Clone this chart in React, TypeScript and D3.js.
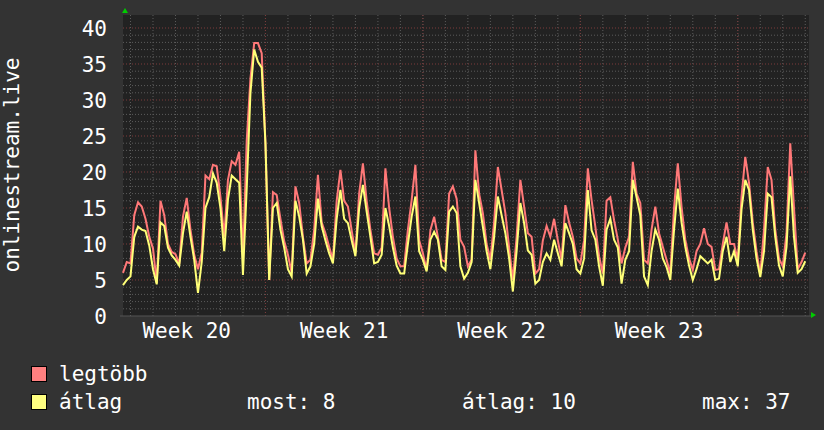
import React from "react";
import * as d3 from "d3";

// 4-hour samples starting Mon 2021-05-17 16:00 UTC
const startTime = Date.UTC(2021, 4, 17, 16);
const stepHours = 4;

const maxValues = [
  6, 7.5, 7.3, 14, 15.8, 15.2, 13.5, 11, 9.4, 4.6,
  16, 14, 10, 8.9, 8.6, 7.2, 13.8, 16.4, 12, 8.5,
  6.5, 8.8, 19.5, 19, 21, 20.8, 16.5, 11, 18.9, 21.5,
  21, 22.8, 8, 24.3, 33, 37.9, 37.9, 36.5, 24, 5,
  17.2, 16.8, 13.5, 10.4, 8.5, 6, 18, 15.7, 11, 7.3,
  7.8, 12, 19.6, 13, 11.5, 9.6, 7.8, 16, 20.3, 16,
  15.2, 11.9, 8.7, 17, 21.2, 16, 12, 8.7, 8.5, 9.5,
  20.5, 15, 11, 8, 6.9, 6.9, 12, 16.1, 21, 10.5,
  8.7, 6.4, 11.9, 13.8, 11, 7.8, 7.5, 17, 18, 16.3,
  10.6, 9.6, 6.9, 7.8, 23, 17, 14.3, 10, 7.8, 13,
  20.7, 17.5, 14.3, 9.5, 5, 11, 18.9, 15.2, 11.5, 11,
  5.9, 6.5, 10.5, 12.5, 11, 13.5, 10.5, 7.8, 15.4, 13,
  11, 8, 7.3, 10.5, 20.5, 16.1, 12.4, 8.3, 5.9, 16,
  16.5, 13.3, 10.6, 7.3, 9.5, 11, 21.4, 17, 15.7, 7.8,
  7.3, 12, 15.2, 11.5, 9.6, 7.8, 5.9, 15, 21.2, 15.2,
  10.6, 8, 6.4, 9, 10, 12.2, 10, 9.6, 6.4, 6.5,
  10, 13, 10, 10, 7.8, 16.6, 22.1, 18.5, 13, 9,
  5.8, 12, 20.7, 18.9, 12, 8, 6.9, 11.5, 24, 15,
  6.5, 7.5, 8.8,
];

const avgValues = [
  4.3, 5, 5.5, 11, 12.4, 12, 11.8, 9.8, 6.5, 4.4,
  13, 12.5, 9.5, 8.4, 7.8, 7, 11.5, 14.5, 11, 7.8,
  3.2, 7.5, 15, 16.5, 19.8, 18.5, 15, 9, 16.2, 19.5,
  19, 18.5, 5.7, 17.7, 31, 37, 35.3, 34.5, 24, 5,
  15, 15.7, 12, 9.5, 6.5, 5.5, 16, 13.8, 10.6, 5.9,
  6.9, 10, 16.3, 12.5, 10.5, 8.7, 7.3, 13.5, 17.5, 13.5,
  12.9, 10.5, 8.3, 15, 18.2, 14.5, 11, 7.3, 7.5, 8.5,
  15, 12.5, 9.5, 7, 5.9, 5.9, 10, 13.8, 16.6, 9,
  7.8, 6.2, 10.6, 11.7, 10.6, 6.9, 6.4, 14.5, 15.2, 14.3,
  6.9, 5.2, 6, 7.5, 18.9, 15.7, 12.4, 9, 6.5, 11,
  16.6, 14, 11.5, 8, 3.4, 9, 15.7, 12.9, 9.1, 8.5,
  4.5, 5, 7.5, 8.7, 7.8, 10.6, 8.7, 6.9, 12.9, 11.5,
  10, 6.5, 5.9, 8, 17.5, 11.9, 10.6, 6.9, 4.2, 12,
  13.5, 10.6, 9.5, 4.5, 7.8, 9, 18.9, 16.5, 14, 5.5,
  4.3, 9, 12, 10.6, 8, 6.8, 5, 12, 17.7, 13,
  9.6, 7, 5, 6.5, 8.3, 7.8, 7.3, 7.8, 5, 5.2,
  9, 11, 7.5, 9, 6.9, 14.8, 18.9, 17.5, 12, 8,
  5.4, 9, 17, 16.5, 11, 7, 5.5, 9.6, 19.4, 11,
  6, 6.5, 7.6,
];

const yTicks = [0, 5, 10, 15, 20, 25, 30, 35, 40];
const legendItems = [
  { label: "legtöbb", color: "#ff8080" },
  { label: "átlag", color: "#ffff80" },
];
const statLabels = ["most: 8", "átlag: 10", "max: 37"];
const axisTitle = "onlinestream.live";

const W = 824;
const H = 430;
const plot = { left: 123, right: 809, top: 15, bottom: 316 };
const font = "'DejaVu Sans Mono', monospace";

const App: React.FC = () => {
  const endTime = startTime + 30.5 * 24 * 3600 * 1000;
  const x = d3
    .scaleUtc()
    .domain([new Date(startTime), new Date(endTime)])
    .range([plot.left, plot.right]);
  const y = d3.scaleLinear().domain([0, 40]).range([plot.bottom, 28]);

  const timeAt = (i: number) => new Date(startTime + i * stepHours * 3600 * 1000);
  const line = d3
    .line<number>()
    .x((_, i) => x(timeAt(i)))
    .y((d) => y(d));

  const days = d3.utcDay.range(new Date(startTime), new Date(endTime));
  const mondays = d3.utcMonday.range(new Date(startTime), new Date(endTime));
  const weekLabels = d3.utcMonday
    .range(d3.utcMonday.floor(new Date(startTime)), new Date(endTime))
    .map((m) => ({ m, c: new Date(+m + 3.5 * 24 * 3600 * 1000) }))
    .filter((d) => +d.c > startTime && +d.c < endTime);

  const minorY = d3.range(1, 41).filter((v) => v % 5 !== 0);
  const fmtWeek = d3.utcFormat("%V");

  return (
    <svg
      width={W}
      height={H}
      style={{ position: "absolute", left: 0, top: 0 }}
      fontFamily={font}
    >
      <rect width={W} height={H} fill="#333333" />
      <rect
        x={plot.left}
        y={plot.top}
        width={plot.right - plot.left}
        height={plot.bottom - plot.top}
        fill="#222222"
      />
      {minorY.map((v) => (
        <line key={"hy" + v} x1={plot.left} x2={plot.right} y1={y(v)} y2={y(v)}
          stroke="#5c5c5c" strokeDasharray="1,2" />
      ))}
      {days.map((d) => (
        <line key={"vd" + +d} x1={x(d)} x2={x(d)} y1={plot.top} y2={plot.bottom}
          stroke="#5c5c5c" strokeDasharray="1,2" />
      ))}
      {yTicks.slice(1).map((v) => (
        <line key={"my" + v} x1={plot.left} x2={plot.right} y1={y(v)} y2={y(v)}
          stroke="#7c3a3a" strokeDasharray="1,2" />
      ))}
      {mondays.map((d) => (
        <line key={"mw" + +d} x1={x(d)} x2={x(d)} y1={plot.top} y2={plot.bottom}
          stroke="#7c3a3a" strokeDasharray="1,2" />
      ))}
      <line x1={120} x2={812} y1={plot.bottom} y2={plot.bottom} stroke="#555" />
      <path d={line(maxValues) || ""} fill="none" stroke="#ff7878" strokeWidth={2} />
      <path d={line(avgValues) || ""} fill="none" stroke="#ffff78" strokeWidth={2} />
      <polygon points="122,13 128,13 125,8" fill="#00cc00" />
      <polygon points="811,312 811,318 816,315" fill="#00cc00" />
      {yTicks.map((v) => (
        <text key={"yt" + v} x={107} y={y(v)} dy="0.36em" textAnchor="end"
          fill="#ffffff" fontSize={21}>
          {v}
        </text>
      ))}
      {weekLabels.map((w) => (
        <text key={"wl" + +w.m} x={x(w.c)} y={338} textAnchor="middle"
          fill="#ffffff" fontSize={21}>
          {"Week " + fmtWeek(w.m)}
        </text>
      ))}
      <text transform="translate(19,165) rotate(-90)" textAnchor="middle"
        fill="#ffffff" fontSize={21}>
        {axisTitle}
      </text>
      {legendItems.map((l, i) => (
        <g key={l.label} transform={`translate(0,${i * 28})`}>
          <rect x={31.5} y={366.5} width={15} height={15} fill={l.color} stroke="#000" />
          <text x={59} y={381} fill="#ffffff" fontSize={21}>{l.label}</text>
        </g>
      ))}
      {statLabels.map((s, i) => (
        <text key={s} x={[247, 462, 702][i]} y={409} fill="#ffffff" fontSize={21}>
          {s}
        </text>
      ))}
    </svg>
  );
};

export default App;
